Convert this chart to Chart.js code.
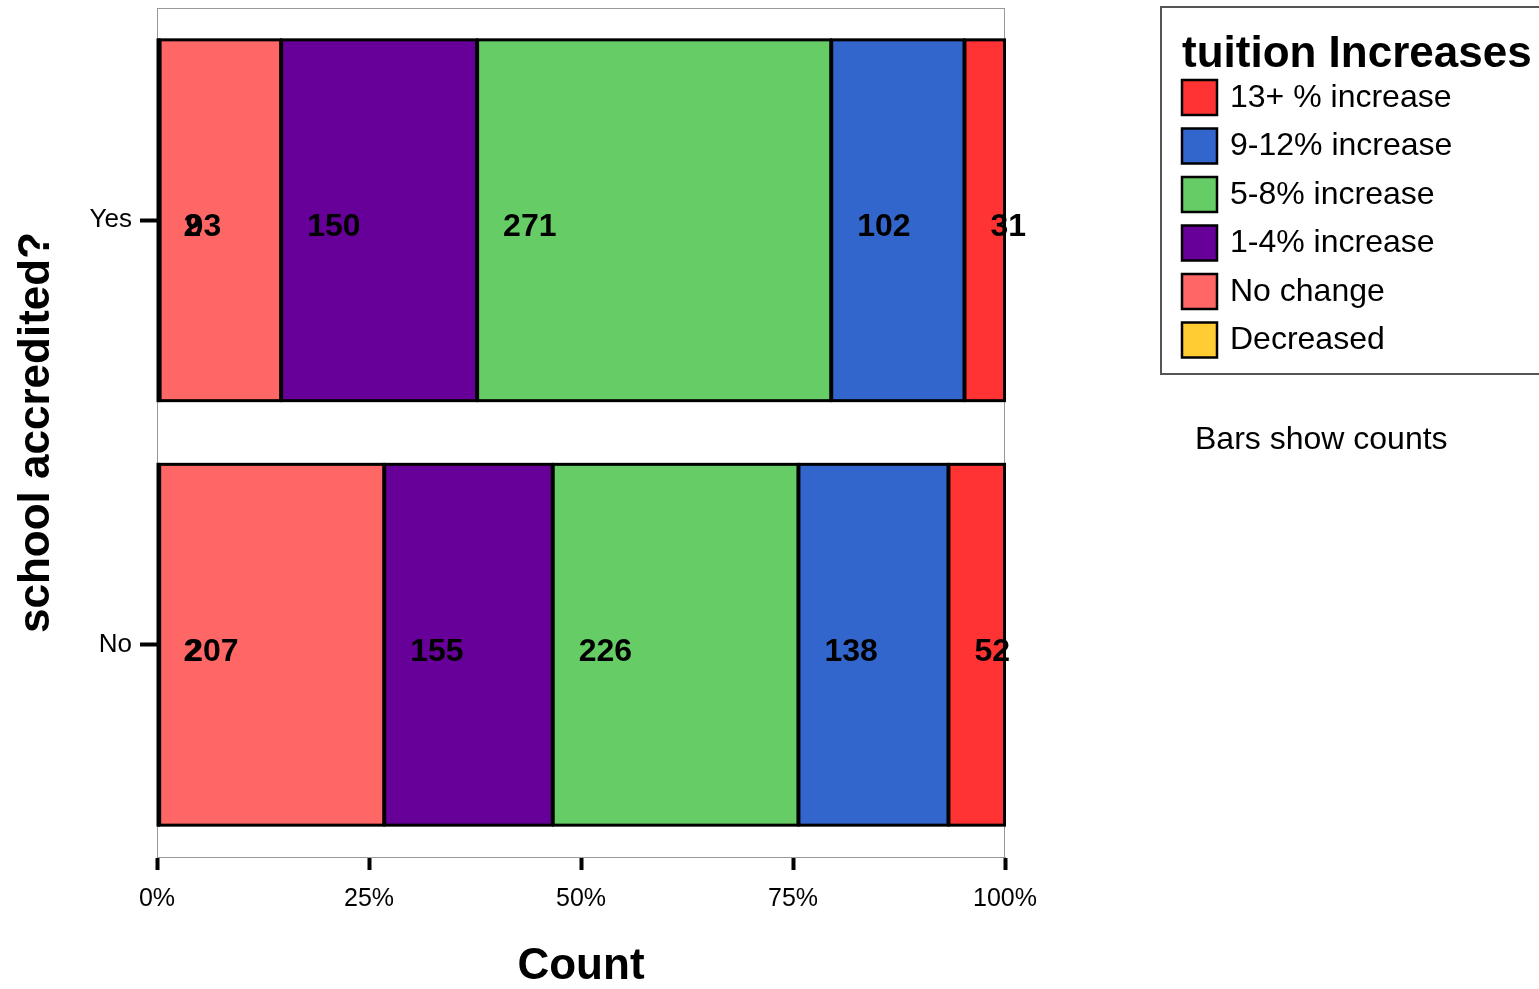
<!DOCTYPE html>
<html>
<head>
<meta charset="utf-8">
<script src="https://cdn.jsdelivr.net/npm/chart.js@4.4.0/dist/chart.umd.min.js"></script>
<style>
    html, body { margin: 0; padding: 0; background: #fff; }
    #wrap { width: 1539px; height: 989px; }
</style>
</head>
<body>
<div id="wrap"><canvas id="chart" width="1539" height="989"></canvas></div>
<script>
// --- data ---
const categories = ['Yes', 'No'];
const seriesNames = ['Decreased', 'No change', '1-4% increase', '5-8% increase', '9-12% increase', '13+ % increase'];
const decreased = [2, 2];
const noChange = [93, 207];
const inc1to4 = [150, 155];
const inc5to8 = [271, 226];
const inc9to12 = [102, 138];
const inc13plus = [31, 52];
const xTicks = [0, 25, 50, 75, 100];
const colors = ['#FFCC33', '#FF6666', '#660099', '#66CC66', '#3366CC', '#FF3333'];

const FONT = "'Liberation Sans', Arial, sans-serif";
const counts = [decreased, noChange, inc1to4, inc5to8, inc9to12, inc13plus];
const totals = categories.map((_, i) => counts.reduce((s, arr) => s + arr[i], 0));

const datasets = counts.map((arr, k) => ({
    label: seriesNames[k],
    data: arr.map((v, i) => v / totals[i] * 100),
    counts: arr,
    backgroundColor: colors[k],
    borderWidth: 0,
    barPercentage: 0.85,
    categoryPercentage: 1
}));

// grey frame round the plot area
const framePlugin = {
    id: 'frame',
    beforeDatasetsDraw(chart) {
        const { ctx, chartArea: a } = chart;
        ctx.save();
        ctx.strokeStyle = '#999';
        ctx.lineWidth = 1;
        ctx.strokeRect(a.left + 0.5, a.top + 0.5, a.right - a.left - 1, a.bottom - a.top);
        ctx.restore();
    }
};

// black outlines of the segments + count labels near the start of each one
const countLabels = {
    id: 'countLabels',
    afterDatasetsDraw(chart) {
        const ctx = chart.ctx;
        ctx.save();
        ctx.strokeStyle = '#000';
        ctx.lineWidth = 3;
        chart.data.datasets.forEach((ds, k) => {
            chart.getDatasetMeta(k).data.forEach(bar => {
                const left = Math.min(bar.x, bar.base);
                const w = Math.abs(bar.x - bar.base);
                ctx.strokeRect(left + 0.5, bar.y - bar.height / 2, Math.max(w - 1, 0), bar.height);
            });
        });

        ctx.font = 'bold 32px ' + FONT;
        ctx.fillStyle = '#000';
        ctx.textAlign = 'left';
        ctx.textBaseline = 'alphabetic';
        chart.data.datasets.forEach((ds, k) => {
            chart.getDatasetMeta(k).data.forEach((bar, i) => {
                const left = Math.min(bar.x, bar.base);
                ctx.fillText(String(ds.counts[i]), left + 26, bar.y + 16);
            });
        });
        ctx.restore();
    }
};

// legend box and note on the right
const sideLegend = {
    id: 'sideLegend',
    afterDraw(chart) {
        const ctx = chart.ctx;
        ctx.save();
        ctx.strokeStyle = '#555';
        ctx.lineWidth = 2;
        ctx.strokeRect(1161, 7, 420, 367);

        ctx.fillStyle = '#000';
        ctx.font = 'bold 44px ' + FONT;
        ctx.textAlign = 'left';
        ctx.textBaseline = 'alphabetic';
        ctx.fillText('tuition Increases', 1182, 67);

        ctx.font = '32px ' + FONT;
        ctx.textBaseline = 'middle';
        const order = [5, 4, 3, 2, 1, 0];
        order.forEach((k, row) => {
            const cy = 97 + row * 48.5;
            ctx.fillStyle = colors[k];
            ctx.fillRect(1182, cy - 17, 35, 35);
            ctx.strokeStyle = '#000';
            ctx.lineWidth = 2.5;
            ctx.strokeRect(1182, cy - 17, 35, 35);
            ctx.fillStyle = '#000';
            ctx.fillText(seriesNames[k], 1230, cy + 1);
        });

        ctx.font = '32px ' + FONT;
        ctx.fillText('Bars show counts', 1195, 440);
        ctx.restore();
    }
};

new Chart(document.getElementById('chart'), {
    type: 'bar',
    data: { labels: categories, datasets: datasets },
    options: {
        indexAxis: 'y',
        responsive: false,
        animation: false,
        layout: { padding: { left: 0, top: 8, right: 534, bottom: 0 } },
        plugins: {
            legend: { display: false },
            tooltip: { enabled: false }
        },
        scales: {
            x: {
                stacked: true,
                min: 0,
                max: 100,
                afterBuildTicks: scale => { scale.ticks = xTicks.map(v => ({ value: v })); },
                afterFit: scale => { scale.height = 132; },
                ticks: {
                    callback: v => v + '%',
                    font: { size: 25, family: FONT },
                    color: '#000',
                    padding: 14,
                    maxRotation: 0,
                    autoSkip: false
                },
                grid: { drawOnChartArea: false, tickLength: 13, tickWidth: 4, tickColor: '#000' },
                border: { color: '#999', width: 1 },
                title: {
                    display: true,
                    text: 'Count',
                    font: { size: 44, weight: 'bold', family: FONT, lineHeight: 1.0 },
                    color: '#000',
                    padding: 0
                }
            },
            y: {
                stacked: true,
                afterFit: scale => {
                    scale.width = 157;
                    scale.paddingTop = 0;
                    scale.paddingBottom = 0;
                },
                ticks: {
                    font: { size: 26, family: FONT },
                    color: '#000',
                    padding: 8
                },
                grid: { offset: false, drawOnChartArea: false, tickLength: 17, tickWidth: 4, tickColor: '#000' },
                border: { color: '#999', width: 1 },
                title: {
                    display: true,
                    text: 'school accredited?',
                    font: { size: 44, weight: 'bold', family: FONT },
                    color: '#000',
                    padding: { top: 10, bottom: 0 }
                }
            }
        }
    },
    plugins: [framePlugin, countLabels, sideLegend]
});
</script>
</body>
</html>
